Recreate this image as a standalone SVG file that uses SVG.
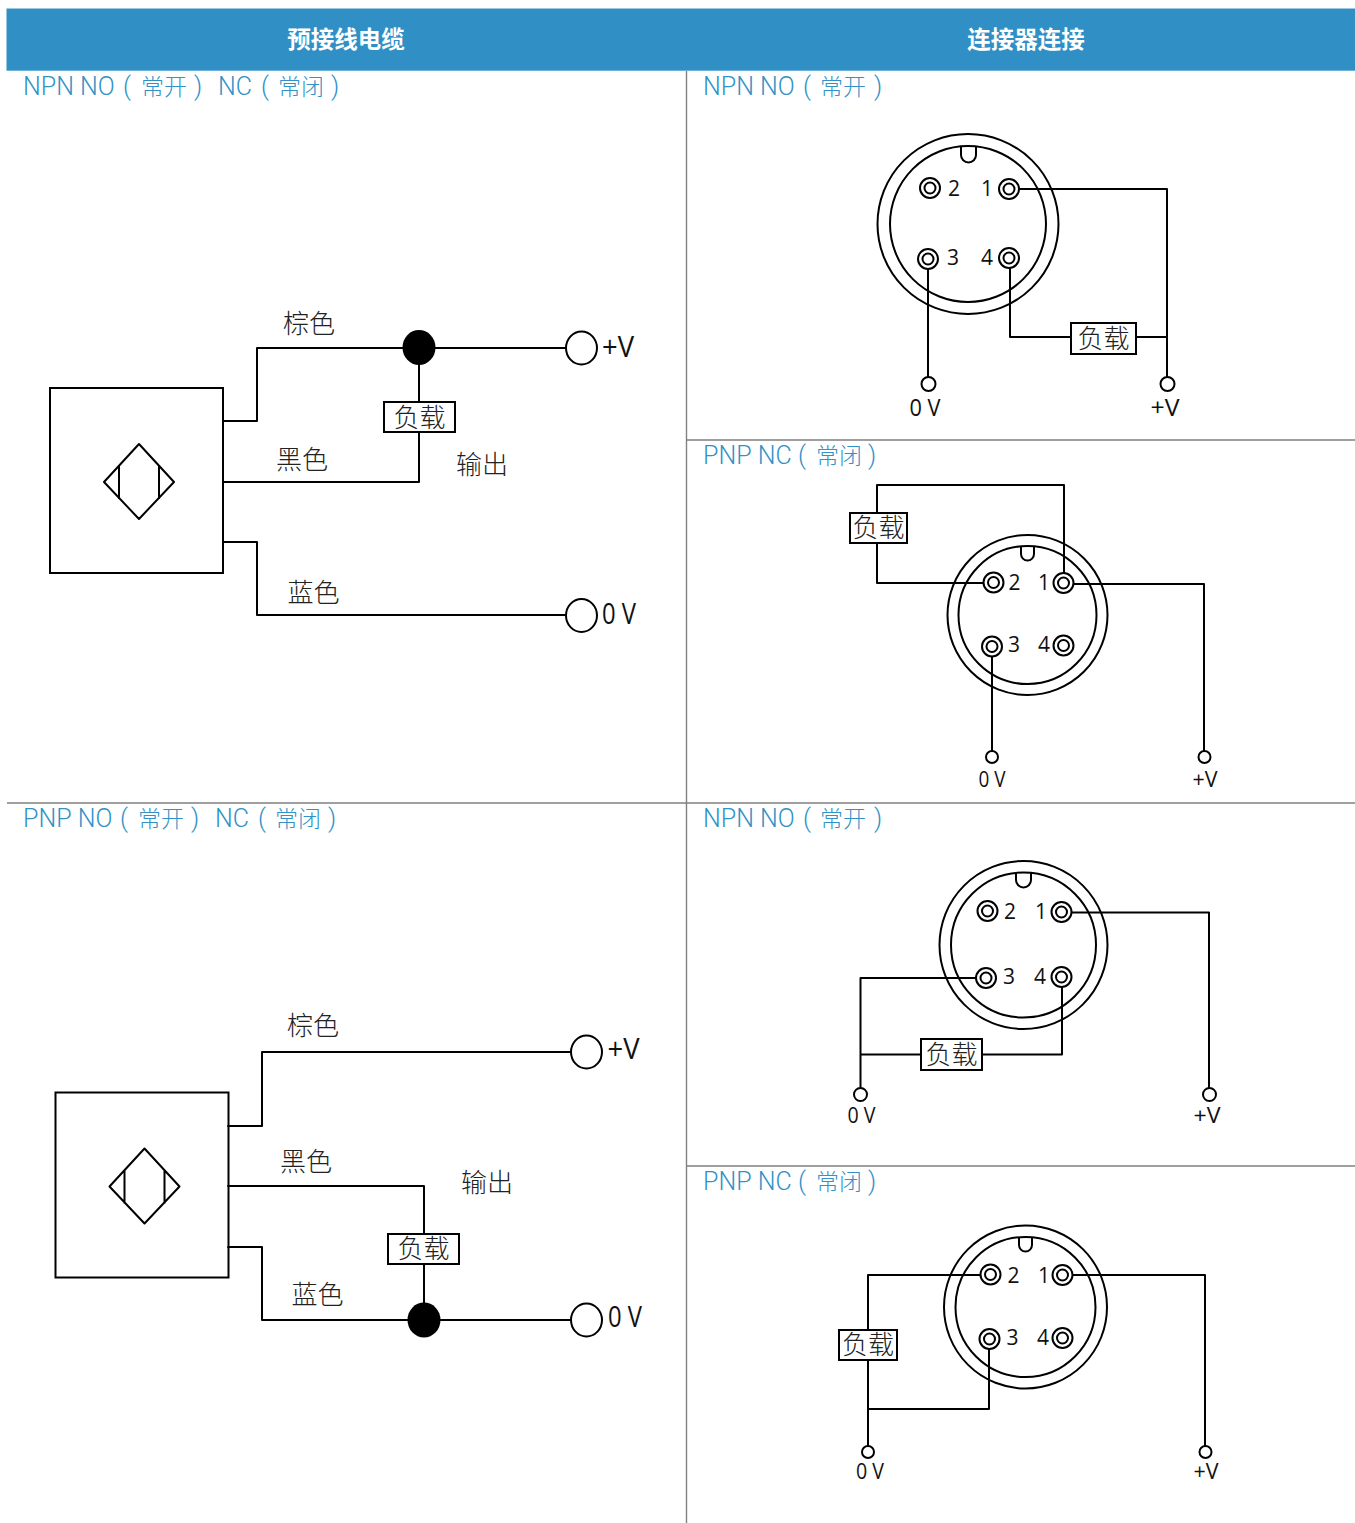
<svg xmlns="http://www.w3.org/2000/svg" width="1355" height="1523" viewBox="0 0 1355 1523">
<style>
.w{fill:none;stroke:#000;stroke-width:2;stroke-linecap:round;stroke-linejoin:round}
.t{fill:none;stroke:#000;stroke-width:2}
.f{fill:#fff;stroke:#000;stroke-width:2}
.grid{stroke:#808080;stroke-width:1.4;fill:none}
.h{font-family:"Noto Sans CJK SC",sans-serif;font-weight:700;font-size:23.5px;fill:#fff;text-anchor:middle}
.s{font-family:Roboto,"Noto Sans CJK SC",sans-serif;font-weight:300;font-size:25px;fill:#3192c6}
.s .z{font-family:"Noto Sans CJK SC",sans-serif;font-size:23px;font-weight:300}
.c{font-family:"Noto Sans CJK SC",sans-serif;font-size:26px;fill:#222;font-weight:300}
.l{font-family:"Noto Sans CJK SC",sans-serif;font-size:26px;fill:#222;text-anchor:middle;font-weight:300}
.n{font-family:"Open Sans",sans-serif;font-size:21px;fill:#111;text-anchor:middle;font-weight:500}
.v{font-family:"Open Sans",sans-serif;font-size:23px;fill:#111;text-anchor:middle;font-weight:500}
.V{font-family:"Open Sans",sans-serif;font-size:29px;fill:#111;text-anchor:middle;font-weight:500}
</style>
<defs>
<g id="pin"><circle r="10" class="f"/><circle r="5.500" class="t"/></g>
<g id="sensor">
<rect x="50" y="388" width="173" height="185" class="t"/>
<path class="t" stroke-linejoin="round" d="M139 444L174 482L139 519L104 482ZM119 466V499M159 466V499"/>
</g>
</defs>
<rect width="1355" height="1523" fill="#fff"/>
<g id="table">
<rect x="6.500" y="8.500" width="1348.500" height="62.200" fill="#3090c6"/>
<path class="grid" d="M686.500 71V1523M686.500 440H1355M7 803H1355M686.500 1166H1355"/>
<text class="h" x="346" y="48">预接线电缆</text>
<text class="h" x="1026" y="48">连接器连接</text>
<text class="s" y="95"><tspan x="23">NPN NO </tspan><tspan x="123">( </tspan><tspan class="z" x="141">常开 </tspan><tspan x="194">) </tspan><tspan x="218">NC </tspan><tspan x="261">( </tspan><tspan class="z" x="278">常闭 </tspan><tspan x="331">)</tspan></text>
<text class="s" y="95"><tspan x="703">NPN NO </tspan><tspan x="803">( </tspan><tspan class="z" x="820">常开 </tspan><tspan x="874">)</tspan></text>
<text class="s" y="464"><tspan x="703">PNP NC </tspan><tspan x="798">( </tspan><tspan class="z" x="816">常闭 </tspan><tspan x="868">)</tspan></text>
<text class="s" y="827"><tspan x="23">PNP NO </tspan><tspan x="120">( </tspan><tspan class="z" x="138">常开 </tspan><tspan x="191">) </tspan><tspan x="215">NC </tspan><tspan x="258">( </tspan><tspan class="z" x="275">常闭 </tspan><tspan x="328">)</tspan></text>
<text class="s" y="827"><tspan x="703">NPN NO </tspan><tspan x="803">( </tspan><tspan class="z" x="820">常开 </tspan><tspan x="874">)</tspan></text>
<text class="s" y="1190"><tspan x="703">PNP NC </tspan><tspan x="798">( </tspan><tspan class="z" x="816">常闭 </tspan><tspan x="868">)</tspan></text>
</g>
<g id="connectors">
<path class="w" d="M223 421H257V348H566M223 482H419V432M419 402V348M223 542H257V615H566"/>
<path class="w" d="M228 1126H262V1052H571M228 1186H424V1234M228 1247H262V1320H571M424 1264V1320"/>
<path class="w" d="M1018 189H1167V377M1010 268V337H1071M1136 337H1167M928 269V377"/>
<path class="w" d="M1064 573V485H877V514M877 543V583H984M1073 584H1204V751M992 656V751"/>
<path class="w" d="M1071 912.500H1209V1088M1062 987V1054.500H982M921 1054.500H860.500M860.500 1088V978H977"/>
<path class="w" d="M1072 1275H1205V1446M982 1275H868V1330M868 1360V1446M868 1409H989V1348"/>
</g>
<g id="npn-sensor">
<use href="#sensor"/>
<ellipse cx="419" cy="347.500" rx="16.500" ry="17.500" fill="#000"/>
<ellipse cx="581.500" cy="348" rx="15.500" ry="16.500" class="f"/>
<ellipse cx="581.500" cy="615.500" rx="15.500" ry="16.500" class="f"/>
<rect x="384" y="402" width="71" height="30" class="f"/>
<text class="l" x="419.500" y="427">负载</text>
<text class="c" x="283" y="333">棕色</text>
<text class="c" x="276" y="469">黑色</text>
<text class="c" x="287.500" y="602">蓝色</text>
<text class="c" x="456" y="474">输出</text>
<text class="V" x="618" y="357" textLength="32" lengthAdjust="spacingAndGlyphs">+V</text>
<text class="V" x="619" y="624" textLength="34" lengthAdjust="spacingAndGlyphs">0 V</text>
</g>
<g id="pnp-sensor">
<use href="#sensor" transform="translate(5.500 704.500)"/>
<ellipse cx="424" cy="1320" rx="16.500" ry="17.500" fill="#000"/>
<ellipse cx="586.500" cy="1052" rx="15.500" ry="16.500" class="f"/>
<ellipse cx="586.500" cy="1320" rx="15.500" ry="16.500" class="f"/>
<rect x="388" y="1234" width="71" height="30" class="f"/>
<text class="l" x="423.500" y="1258">负载</text>
<text class="c" x="287" y="1035">棕色</text>
<text class="c" x="280" y="1171">黑色</text>
<text class="c" x="291.500" y="1304">蓝色</text>
<text class="c" x="461" y="1192">输出</text>
<text class="V" x="623.500" y="1059" textLength="32" lengthAdjust="spacingAndGlyphs">+V</text>
<text class="V" x="625" y="1327" textLength="34" lengthAdjust="spacingAndGlyphs">0 V</text>
</g>
<g id="connector-npn-1">
<ellipse cx="968" cy="224" rx="90.500" ry="90" class="t"/>
<ellipse cx="968" cy="224" rx="78" ry="78" class="t"/>
<path class="t" d="M961 147V155A7.500 7.500 0 0 0 976 155V147"/>
<use href="#pin" x="930" y="188"/><use href="#pin" x="1009" y="189"/><use href="#pin" x="928" y="259"/><use href="#pin" x="1009" y="258"/>
<text class="n" x="954" y="196">2</text><text class="n" x="987" y="196">1</text><text class="n" x="953" y="265">3</text><text class="n" x="987" y="265">4</text>
<circle cx="928.500" cy="384" r="7" class="f"/><circle cx="1167.500" cy="384" r="7" class="f"/>
<rect x="1071" y="323" width="65" height="31" class="f"/>
<text class="l" x="1103.500" y="348">负载</text>
<text class="v" x="925" y="416" textLength="31" lengthAdjust="spacingAndGlyphs">0 V</text>
<text class="v" x="1165" y="416" textLength="29" lengthAdjust="spacingAndGlyphs">+V</text>
</g>
<g id="connector-pnp-1">
<circle cx="1027.500" cy="615" r="80" class="t"/>
<circle cx="1027.500" cy="615" r="69" class="t"/>
<path class="t" d="M1021 547V554A6.500 6.500 0 0 0 1034 554V547"/>
<use href="#pin" x="993.500" y="582.500"/><use href="#pin" x="1063.500" y="583"/><use href="#pin" x="992" y="646.500"/><use href="#pin" x="1063.500" y="645.500"/>
<text class="n" x="1014.500" y="590">2</text><text class="n" x="1044" y="590">1</text><text class="n" x="1014" y="652">3</text><text class="n" x="1044" y="652">4</text>
<circle cx="992" cy="757" r="6" class="f"/><circle cx="1204.500" cy="757" r="6" class="f"/>
<rect x="850" y="513" width="57" height="30" class="f"/>
<text class="l" x="878.500" y="537">负载</text>
<text class="n" x="992" y="787" textLength="27" lengthAdjust="spacingAndGlyphs">0 V</text>
<text class="n" x="1205" y="787" textLength="25" lengthAdjust="spacingAndGlyphs">+V</text>
</g>
<g id="connector-npn-2">
<circle cx="1023.500" cy="945" r="84" class="t"/>
<circle cx="1023.500" cy="945" r="72.500" class="t"/>
<path class="t" d="M1016 873V880A7.500 7.500 0 0 0 1031 880V873"/>
<use href="#pin" x="987.500" y="911"/><use href="#pin" x="1061.500" y="912"/><use href="#pin" x="986" y="978"/><use href="#pin" x="1061.500" y="977"/>
<text class="n" x="1010" y="919">2</text><text class="n" x="1041" y="919">1</text><text class="n" x="1009" y="984">3</text><text class="n" x="1040" y="984">4</text>
<circle cx="860.500" cy="1094.500" r="6.500" class="f"/><circle cx="1209.500" cy="1094.500" r="6.500" class="f"/>
<rect x="921" y="1039" width="61" height="31" class="f"/>
<text class="l" x="951.500" y="1064">负载</text>
<text class="n" x="861.500" y="1123" textLength="28" lengthAdjust="spacingAndGlyphs">0 V</text>
<text class="n" x="1207" y="1123" textLength="27" lengthAdjust="spacingAndGlyphs">+V</text>
</g>
<g id="connector-pnp-2">
<circle cx="1025.500" cy="1307" r="81.500" class="t"/>
<circle cx="1025.500" cy="1307" r="70" class="t"/>
<path class="t" d="M1019 1238V1245A6.500 6.500 0 0 0 1032 1245V1238"/>
<use href="#pin" x="990.500" y="1274.500"/><use href="#pin" x="1062.500" y="1275"/><use href="#pin" x="989.500" y="1339"/><use href="#pin" x="1062.500" y="1338"/>
<text class="n" x="1013.500" y="1283">2</text><text class="n" x="1044" y="1283">1</text><text class="n" x="1012.500" y="1345">3</text><text class="n" x="1043" y="1345">4</text>
<circle cx="868" cy="1452" r="6" class="f"/><circle cx="1205.500" cy="1452" r="6" class="f"/>
<rect x="839" y="1330" width="58" height="30" class="f"/>
<text class="l" x="868" y="1354">负载</text>
<text class="n" x="870" y="1479" textLength="28" lengthAdjust="spacingAndGlyphs">0 V</text>
<text class="n" x="1206" y="1479" textLength="25" lengthAdjust="spacingAndGlyphs">+V</text>
</g>
</svg>
